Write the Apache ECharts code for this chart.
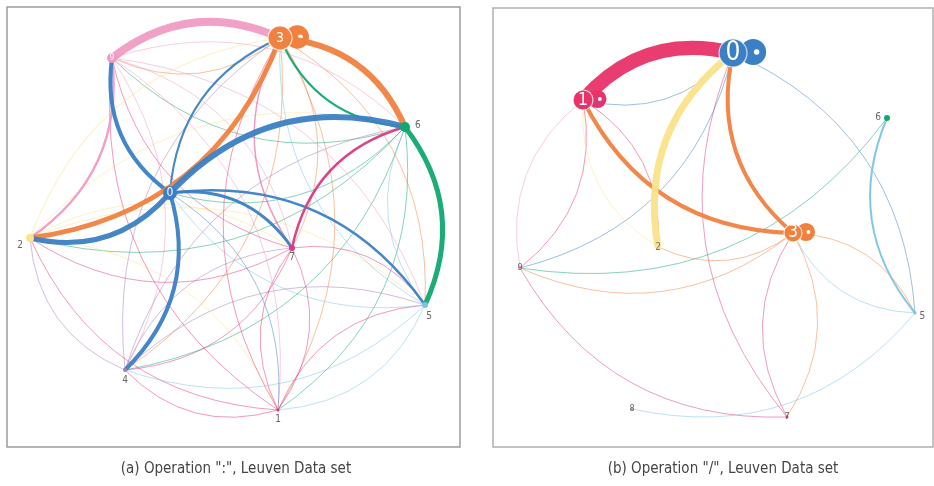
<!DOCTYPE html>
<html><head><meta charset="utf-8">
<script src="https://cdn.jsdelivr.net/npm/echarts@6/dist/echarts.min.js"></script>
<style>html,body{margin:0;padding:0;background:#fff}#c{width:934px;height:486px}</style>
</head><body><div id="c"></div>
<script>
// ---------- Panel (a): Operation ":" ----------
const nodesA  = ['3','9','6','0','2','7','5','4','1'];
const nodeXA  = [280,112,405,170,30,292,425,125,278];
const nodeYA  = [38,58,127,193,238,248,305,370,410];
const nodeWA  = [24,10,10,14,8,6,6,4,3];
const edgesA = [
  ['9','3',8],['3','6',6],['6','5',5],['0','6',6],['3','2',5],['0','2',5],
  ['0','9',4],['0','4',4],['0','7',3],['0','5',2.5],['0','3',2],['7','6',2.5],
  ['9','2',2.5],['6','3',2],['7','3',1.5],['2','3',1.2],
  ['3','4',1],['3','1',1],['3','5',1],['3','7',1],['3','9',1],
  ['6','9',1],['6','2',1],['6','4',1],['6','1',1],['6','0',1],
  ['2','6',1],['2','5',1],['2','7',1],['2','1',1],
  ['4','7',1],['4','3',1],['4','2',1],['4','5',1],['4','6',1],
  ['1','4',1],['1','2',1],['1','5',1],['1','3',1],['1','9',1],['1','7',1],
  ['5','1',1],['5','4',1],['5','0',1],['5','3',1],['5','6',1],
  ['7','5',1],['7','1',1],['7','2',1],['7','4',1],['7','9',1],
  ['9','4',1],['9','7',1],['9','5',1],['9','1',1],['9','6',1],
  ['0','1',1]
];
const loopsA = [['3',9]];

// ---------- Panel (b): Operation "/" ----------
const nodesB  = ['0','1','2','3','6','5','7','8','9'];
const nodeXB  = [733,583,658,793,887,915,787,632,520];
const nodeYB  = [53,100,247,233,118,313,417,409,268];
const nodeWB  = [28,20,5,18,6,3,3,3,4];
const edgesB = [
  ['1','0',14],['2','0',7],['3','1',4],['3','0',4],['5','6',2],
  ['6','9',1],['3','9',1],['0','9',1],['1','9',1],['9','1',1],['7','9',1],
  ['2','1',1],['1','2',1],['0','1',1],['0','5',1],['7','0',1],['7','3',1],
  ['3','7',1],['3','5',1],['5','3',1],['3','2',1],['5','8',1]
];
const loopsB = [['0',10],['1',7],['3',7]];

const captions = ['(a) Operation ":", Leuven Data set', '(b) Operation "/", Leuven Data set'];

// ---------- styles ----------
const colorMap = {'0':'#3b7fc4','1':'#e8336a','2':'#fbe38a','3':'#f0813f','4':'#a87cb8',
  '5':'#7cc3e4','6':'#10a870','7':'#d93a85','8':'#b0b0b0','9':'#ef9cc2'};
const FONT = "'DejaVu Sans Condensed','Liberation Sans Narrow','Liberation Sans',sans-serif";
const inside = (size, color) => ({show:true, position:'inside', color: color || '#fff', fontSize:size, fontFamily:FONT});
const outside = (pos, off) => ({show:true, position:pos, offset:off||[0,0], color:'#666', fontSize:10, fontFamily:FONT, distance:3});
const labelA = {'3':inside(14),'9':inside(8),'0':inside(12),'6':outside('right',[2,-2]),'2':outside('left',[0,7]),
  '7':outside('bottom',[0,-2]),'5':outside('bottom',[4,0]),'4':outside('bottom'),'1':outside('bottom')};
const labelB = {'0':inside(26),'1':inside(18),'3':inside(17),'2':inside(10,'#777'),'6':outside('left',[0,-1]),
  '5':outside('right',[0,3]),'7':inside(9,'#666'),'8':inside(9,'#666'),'9':inside(9,'#666')};

function makeSeries(idx, names, xs, ys, ws, edges, labels) {
  return {
    type:'graph', coordinateSystem:'cartesian2d', xAxisIndex:idx, yAxisIndex:idx, z:3,
    silent:true, animation:false, emphasis:{disabled:true},
    edgeSymbol:['none','none'],
    data: names.map((n,i)=>({name:n, value:[xs[i], ys[i]], symbolSize:ws[i],
      itemStyle: ws[i] >= 18 ? {color:colorMap[n], borderColor:'rgba(255,255,255,0.75)', borderWidth:1.2} : {color:colorMap[n]},
      label:labels[n]})),
    links: edges.slice().sort((a,b)=>a[2]-b[2]).map(e=>({source:e[0], target:e[1],
      lineStyle:{width:e[2], color:colorMap[e[0]], opacity: e[2]>=2 ? 0.95 : 0.5, curveness:0.3}})),
    lineStyle:{curveness:0.3}
  };
}
// self-loops drawn as thick rings (filled disc + small hole) attached to the right of their node
function makeLoops(idx, names, xs, ys, ws, loops, hole) {
  return {
    type:'scatter', xAxisIndex:idx, yAxisIndex:idx, z: hole ? 2.5 : 2, silent:true, animation:false,
    data: loops.map(l => {
      const i = names.indexOf(l[0]);
      return {value:[xs[i], ys[i]], symbol:'circle', symbolSize: hole ? l[1]*0.55 : l[1]*2.6,
        symbolOffset:[ws[i]*0.72 + (hole ? l[1]*0.35 : 0), -1],
        itemStyle:{color: hole ? '#fff' : colorMap[l[0]], opacity:1}};
    })
  };
}

const chart = echarts.init(document.getElementById('c'), null, {renderer:'canvas'});
chart.setOption({
  backgroundColor:'#fff',
  animation:false,
  title: [
    {text:captions[0], left:231, top:457, textAlign:'center', textStyle:{fontSize:15, fontWeight:'normal', color:'#444', fontFamily:FONT}},
    {text:captions[1], left:718, top:457, textAlign:'center', textStyle:{fontSize:15, fontWeight:'normal', color:'#444', fontFamily:FONT}}
  ],
  grid: [
    {left:7, top:7, width:453, height:440, show:true, borderColor:'#9c9c9c', borderWidth:1.5, backgroundColor:'#fff'},
    {left:493, top:8, width:440, height:439, show:true, borderColor:'#b0b0b0', borderWidth:1.5, backgroundColor:'#fff'}
  ],
  xAxis: [
    {gridIndex:0, type:'value', min:7, max:460, show:false},
    {gridIndex:1, type:'value', min:493, max:933, show:false}
  ],
  yAxis: [
    {gridIndex:0, type:'value', min:7, max:447, inverse:true, show:false},
    {gridIndex:1, type:'value', min:8, max:447, inverse:true, show:false}
  ],
  series: [
    makeLoops(0, nodesA, nodeXA, nodeYA, nodeWA, loopsA, false),
    makeLoops(1, nodesB, nodeXB, nodeYB, nodeWB, loopsB, false),
    makeLoops(0, nodesA, nodeXA, nodeYA, nodeWA, loopsA, true),
    makeLoops(1, nodesB, nodeXB, nodeYB, nodeWB, loopsB, true),
    makeSeries(0, nodesA, nodeXA, nodeYA, nodeWA, edgesA, labelA),
    makeSeries(1, nodesB, nodeXB, nodeYB, nodeWB, edgesB, labelB)
  ]
});
</script></body></html>
